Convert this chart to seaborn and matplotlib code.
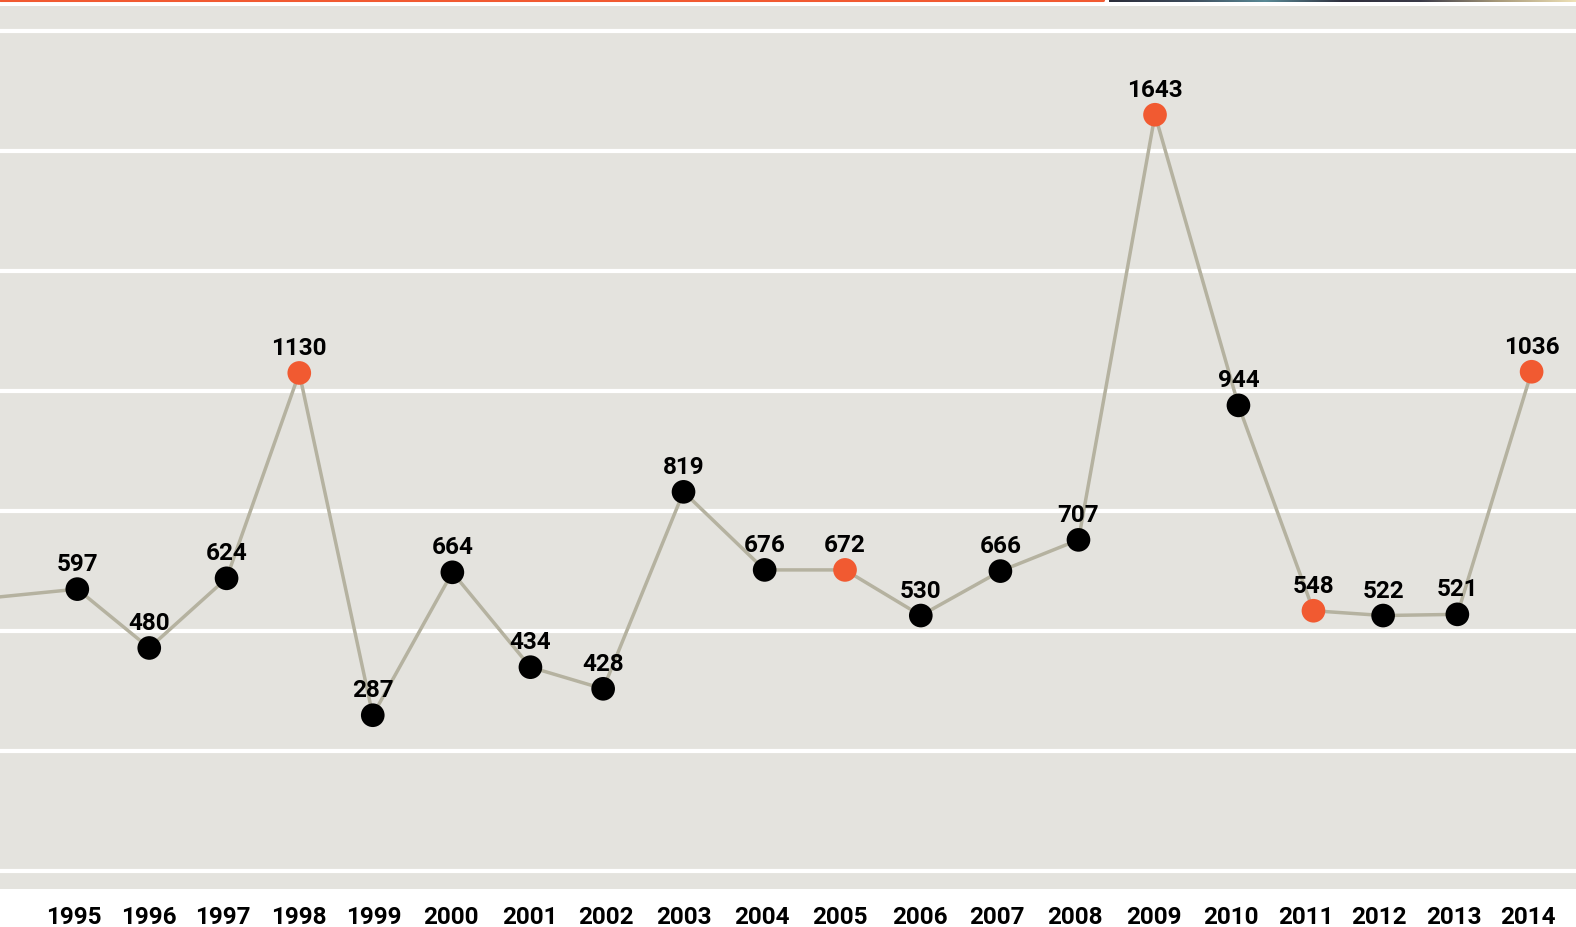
import numpy as np
import pandas as pd
import matplotlib
matplotlib.use('Agg')
import matplotlib.pyplot as plt
from matplotlib.colors import LinearSegmentedColormap
import seaborn as sns

# Data
years = [1995, 1996, 1997, 1998, 1999, 2000, 2001, 2002, 2003, 2004,
         2005, 2006, 2007, 2008, 2009, 2010, 2011, 2012, 2013, 2014]
counts = [597, 480, 624, 1130, 287, 664, 434, 428, 819, 676,
          672, 530, 666, 707, 1643, 944, 548, 522, 521, 1036]
# point dates (fractional years) and plotted level (gridline units)
dates = [1995.05, 1995.99, 1997.00, 1997.95, 1998.91, 1999.95, 2000.97, 2001.92, 2002.97, 2004.03,
         2005.08, 2006.07, 2007.11, 2008.13, 2009.13, 2010.22, 2011.20, 2012.11, 2013.08, 2014.05]
levels = [2.35, 1.86, 2.44, 4.15, 1.30, 2.49, 1.70, 1.52, 3.16, 2.51,
          2.51, 2.13, 2.50, 2.76, 6.30, 3.88, 2.17, 2.13, 2.14, 4.16]
# where the year labels sit on the date axis
tick_dates = [1995.0, 1995.985, 1996.956, 1997.941, 1998.926, 1999.937, 2000.961, 2001.959,
              2002.970, 2003.994, 2005.018, 2006.056, 2007.067, 2008.078, 2009.115, 2010.126,
              2011.097, 2012.056, 2013.028, 2014.0]
highlight = [1998, 2005, 2009, 2011, 2014]
# previous year, only the line into the chart is visible
prev_date, prev_level = 1993.95, 2.28

bg = '#e4e3de'
orange = '#f15a31'
line_col = '#b5b2a0'

df = pd.DataFrame({'year': years, 'count': counts, 'date': dates, 'level': levels})
df['kind'] = np.where(df['year'].isin(highlight), 'hi', 'normal')
line_df = pd.concat([pd.DataFrame({'date': [prev_date], 'level': [prev_level]}),
                     df[['date', 'level']]], ignore_index=True)

sns.set_theme(style='white')
plt.rcParams['font.family'] = ['Roboto', 'DejaVu Sans']

fig = plt.figure(figsize=(15.76, 9.28), dpi=100)
ax = fig.add_axes([0, 0.0412, 1, 0.9512])
ax.set_facecolor(bg)

# white gridlines
for g in range(8):
    ax.axhline(g, color='white', lw=3, zorder=1)

sns.lineplot(data=line_df, x='date', y='level', color=line_col, lw=2.5,
             sort=False, ax=ax, zorder=2)
sns.scatterplot(data=df, x='date', y='level', hue='kind',
                palette={'normal': 'black', 'hi': orange}, s=290,
                edgecolor='none', legend=False, ax=ax, zorder=3)

for _, r in df.iterrows():
    ax.annotate(str(r['count']), (r['date'], r['level']), xytext=(0, 10),
                textcoords='offset points', ha='center', va='bottom',
                fontsize=17.5, fontweight='bold', color='black', zorder=4)

ax.set_xlim(1994.04, 2014.63)
ax.set_ylim(-0.145, 7.205)
ax.set_xticks(tick_dates)
ax.set_xticklabels([str(y) for y in years], fontsize=17.5, fontweight='bold', color='black')
ax.tick_params(axis='x', length=0, pad=12)
ax.set_yticks([])
ax.set_xlabel('')
ax.set_ylabel('')
for s in ax.spines.values():
    s.set_visible(False)

# decorative strips along the top edge
fig.add_artist(plt.Line2D([0, 0.6996], [0.9985, 0.9985], color=orange, lw=2.2,
                          transform=fig.transFigure))
strip = fig.add_axes([0.7035, 0.9968, 0.2965, 0.0032])
cmap = LinearSegmentedColormap.from_list('strip', ['#2b2d3a', '#3c4a5a', '#5a8a96',
                                                   '#2f2f3d', '#3a3a48', '#a89a7a', '#efe2b8'])
strip.imshow(np.linspace(0, 1, 256)[None, :], aspect='auto', cmap=cmap)
strip.axis('off')

fig.savefig('out.png', dpi=100, facecolor='white')
